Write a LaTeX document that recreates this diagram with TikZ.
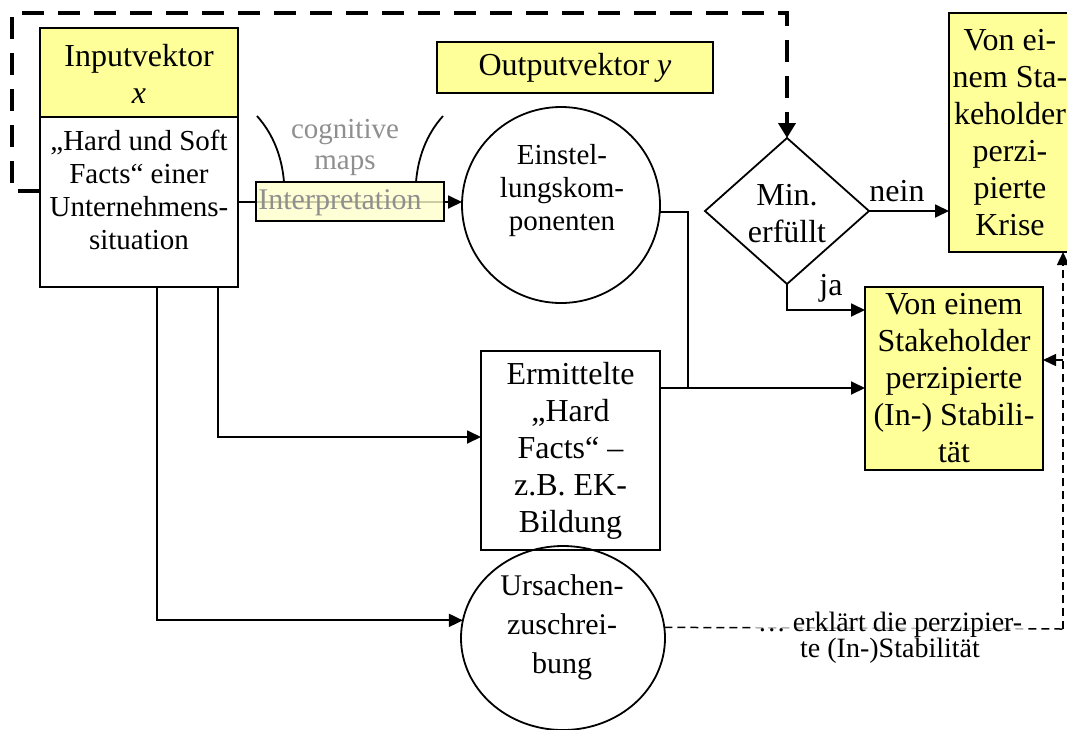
\documentclass[tikz,border=0pt]{standalone}
\usepackage{fontspec}
\setmainfont{Liberation Serif}
\usetikzlibrary{shapes.geometric,arrows.meta}
\definecolor{hiyellow}{HTML}{FFFF99}
\definecolor{paleyellow}{HTML}{FFFFCC}
\definecolor{mapgray}{HTML}{8F8F8F}

\tikzset{
  every node/.style={inner sep=0pt, outer sep=0pt},
  box/.style={draw, line width=1.8pt, rectangle},
  yel/.style={box, fill=hiyellow},
  big/.style={font=\fontsize{32}{37}\selectfont, align=center},
  mid/.style={font=\fontsize{29}{33}\selectfont, align=center},
  roundbox/.style={draw, ellipse, line width=1.8pt},
  conn/.style={line width=1.8pt},
  arr/.style={conn, -{Triangle[length=14pt,width=13pt]}},
  feedback/.style={line width=4pt, dash pattern=on 22pt off 14pt,
    -{Triangle[length=15pt,width=17pt]}},
  explain/.style={line width=1.5pt, dash pattern=on 8pt off 5pt},
  explainarr/.style={explain, -{Triangle[length=13pt,width=12pt]}},
}

\begin{document}
\begin{tikzpicture}[x=1pt,y=-1pt]
\clip (0,0) rectangle (1067,729);
\fill[white] (0,0) rectangle (1067,729);

% input vector
\node[yel, minimum width=198pt, minimum height=89pt] (inhead) at (139,72.5) {};
\node[big] (inheadtxt) at (139,74) {Inputvektor\\\textit{x}};
\node[box, minimum width=198pt, minimum height=170pt] (inbody) at (139,202) {};
\node[mid] (inbodytxt) at (139,190) {„Hard und Soft\\Facts“ einer\\Unternehmens-\\situation};

% output vector
\node[yel, big, minimum width=276pt, minimum height=51pt] (outvec) at (575,67.5) {Outputvektor \textit{y}};

% attitude components
\node[roundbox, minimum width=198pt, minimum height=196pt] (einst) at (561,205) {};
\node[mid] (einsttxt) at (562,191) {Einstel-\\lungskom-\\ponenten};

% interpretation through cognitive maps
\draw[arr] (inbody.east) -- (inbody.east -| einst.west);
\node[box, fill=paleyellow, fill opacity=0.8,
      minimum width=188pt, minimum height=39pt] (interp) at (350,201.5) {};
\node[mid, text=mapgray, font=\fontsize{30}{33}\selectfont] (interptxt) at (340,203) {Interpretation};
\draw[conn] (257,116) .. controls (274,135) and (282,158) .. (284,182);
\draw[conn] (443,116) .. controls (426,135) and (418,158) .. (416,182);
\node[mid, text=mapgray, font=\fontsize{29}{31}\selectfont] (cogmaps) at (345,147) {cognitive\\maps};

% hard facts
\node[box, big, minimum width=179pt, minimum height=199pt] (hardfacts) at (570.5,450.5)
  {Ermittelte\\„Hard\\Facts“ –\\z.B. EK-\\Bildung};

% causal attribution
\node[roundbox, minimum width=204pt, minimum height=184pt] (ursache) at (563,638) {};
\node[mid, font=\fontsize{30}{39}\selectfont] (ursachetxt) at (562,627) {Ursachen-\\zuschrei-\\bung};

% decision
\node[draw, diamond, line width=1.8pt, minimum width=164pt, minimum height=146pt] (minok) at (787,211) {};
\node[big] (minoktxt) at (787,214) {Min.\\erfüllt};

% results
\node[yel, big, minimum width=178pt, minimum height=183pt] (stab) at (954,378.5)
  {Von einem\\Stakeholder\\perzipierte\\(In-) Stabili-\\tät};
\node[yel, big, minimum width=122pt, minimum height=239pt] (krise) at (1010,132.5)
  {Von ei-\\nem Sta-\\keholder\\perzi-\\pierte\\Krise};

% decision branches
\draw[arr] (minok.east) -- (krise.west |- minok.east);
\node[big, anchor=base] (neinlbl) at (897,201) {nein};
\draw[arr] (minok.south) |- (stab.west |- 0,310);
\node[big, anchor=base] (jalbl) at (831,295) {ja};

% attitude and hard facts to stability
\coordinate (junction) at (688,388);
\draw[conn] (einst.-4) -| (junction);
\draw[conn] (hardfacts.east |- junction) -- (junction);
\draw[arr] (junction) -- (stab.west |- junction);

% situation to hard facts and attribution
\draw[arr] (inbody.south -| 218,0) |- (hardfacts.west |- 0,437);
\draw[arr] (inbody.south -| 157,0) |- (ursache.170);

% explanation of perceived stability
\coordinate (fbcorner) at (1063,629);
\draw[explain] (ursache.6) -- (fbcorner);
\draw[explainarr] (fbcorner) -- (krise.south -| fbcorner);
\draw[explainarr] (fbcorner |- 0,360) -- (stab.east |- 0,360);
\node[font=\fontsize{28}{23}\selectfont, align=center, fill=white, fill opacity=0.7,
      text opacity=1, inner xsep=4pt, inner ysep=1pt] (explaintxt) at (890,638)
  {… erklärt die perzipier-\\te (In-)Stabilität};

% feedback loop
\draw[feedback] (inbody.west |- 0,191) -- (12,191) -- (12,13) -- (minok.north |- 0,13) -- (minok.north);
\end{tikzpicture}
\end{document}
